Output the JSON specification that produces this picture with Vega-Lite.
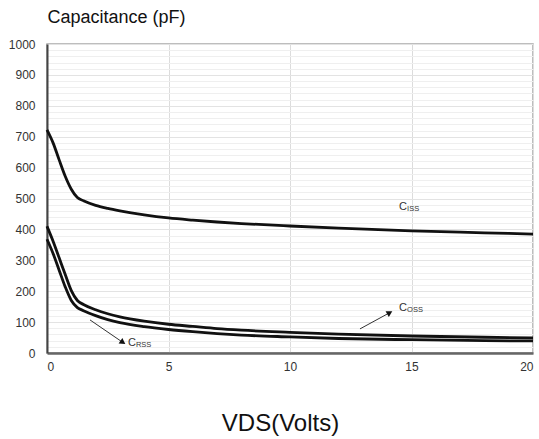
{
  "$schema": "https://vega.github.io/schema/vega-lite/v6.json",
  "width": 486,
  "height": 309,
  "autosize": "none",
  "padding": {"left": 47, "top": 44, "right": 6, "bottom": 86},
  "background": "white",
  "config": {
    "font": "Liberation Sans",
    "view": {"stroke": "#a8a8a8", "strokeWidth": 1.5}
  },
  "datasets": {
    "curves": [
      {"series": "Ciss", "vds": 0, "c": 722}, {"series": "Ciss", "vds": 0.25, "c": 680}, {"series": "Ciss", "vds": 0.5, "c": 625}, {"series": "Ciss", "vds": 0.75, "c": 572}, {"series": "Ciss", "vds": 1.0, "c": 530}, {"series": "Ciss", "vds": 1.25, "c": 503}, {"series": "Ciss", "vds": 1.5, "c": 493}, {"series": "Ciss", "vds": 2, "c": 478}, {"series": "Ciss", "vds": 2.5, "c": 468}, {"series": "Ciss", "vds": 3, "c": 460}, {"series": "Ciss", "vds": 4, "c": 447}, {"series": "Ciss", "vds": 5, "c": 437}, {"series": "Ciss", "vds": 6, "c": 430}, {"series": "Ciss", "vds": 7, "c": 424}, {"series": "Ciss", "vds": 8, "c": 419}, {"series": "Ciss", "vds": 10, "c": 411}, {"series": "Ciss", "vds": 12, "c": 404}, {"series": "Ciss", "vds": 15, "c": 395}, {"series": "Ciss", "vds": 18, "c": 389}, {"series": "Ciss", "vds": 20, "c": 385},
      {"series": "Coss", "vds": 0, "c": 410}, {"series": "Coss", "vds": 0.25, "c": 362}, {"series": "Coss", "vds": 0.5, "c": 308}, {"series": "Coss", "vds": 0.75, "c": 254}, {"series": "Coss", "vds": 1.0, "c": 202}, {"series": "Coss", "vds": 1.25, "c": 170}, {"series": "Coss", "vds": 1.5, "c": 157}, {"series": "Coss", "vds": 2, "c": 140}, {"series": "Coss", "vds": 2.5, "c": 127}, {"series": "Coss", "vds": 3, "c": 117}, {"series": "Coss", "vds": 4, "c": 103}, {"series": "Coss", "vds": 5, "c": 93}, {"series": "Coss", "vds": 6, "c": 86}, {"series": "Coss", "vds": 7, "c": 79}, {"series": "Coss", "vds": 8, "c": 74}, {"series": "Coss", "vds": 10, "c": 67}, {"series": "Coss", "vds": 12, "c": 61}, {"series": "Coss", "vds": 15, "c": 55}, {"series": "Coss", "vds": 18, "c": 51}, {"series": "Coss", "vds": 20, "c": 49},
      {"series": "Crss", "vds": 0, "c": 368}, {"series": "Crss", "vds": 0.25, "c": 322}, {"series": "Crss", "vds": 0.5, "c": 268}, {"series": "Crss", "vds": 0.75, "c": 214}, {"series": "Crss", "vds": 1.0, "c": 170}, {"series": "Crss", "vds": 1.25, "c": 147}, {"series": "Crss", "vds": 1.5, "c": 137}, {"series": "Crss", "vds": 2, "c": 121}, {"series": "Crss", "vds": 2.5, "c": 108}, {"series": "Crss", "vds": 3, "c": 98}, {"series": "Crss", "vds": 4, "c": 85}, {"series": "Crss", "vds": 5, "c": 76}, {"series": "Crss", "vds": 6, "c": 69}, {"series": "Crss", "vds": 7, "c": 63}, {"series": "Crss", "vds": 8, "c": 58}, {"series": "Crss", "vds": 10, "c": 52}, {"series": "Crss", "vds": 12, "c": 47}, {"series": "Crss", "vds": 15, "c": 43}, {"series": "Crss", "vds": 18, "c": 40}, {"series": "Crss", "vds": 20, "c": 39}
    ],
    "labels": [
      {"name": "Ciss", "main": "C", "sub": "ISS", "vds": 14.49, "c": 472},
      {"name": "Coss", "main": "C", "sub": "OSS", "vds": 14.49, "c": 146},
      {"name": "Crss", "main": "C", "sub": "RSS", "vds": 3.33, "c": 32}
    ],
    "arrows": [
      {"name": "Coss", "vds": 12.88, "c": 78, "vds2": 14.07, "c2": 129},
      {"name": "Crss", "vds": 1.77, "c": 107, "vds2": 3.09, "c2": 36}
    ]
  },
  "resolve": {"axis": {"y": "independent"}},
  "layer": [
    {
      "data": {"name": "curves"},
      "mark": {"type": "line", "interpolate": "monotone", "strokeWidth": 2.8, "color": "#111"},
      "encoding": {
        "x": {
          "field": "vds", "type": "quantitative",
          "scale": {"domain": [0, 20], "nice": false},
          "axis": {
            "values": [0, 5, 10, 15, 20],
            "title": "VDS(Volts)",
            "titleFontSize": 24, "titleFontWeight": "normal", "titleColor": "#111",
            "titleX": 233, "titleY": 77, "titleAlign": "center", "titleBaseline": "alphabetic",
            "labelFontSize": 12, "labelColor": "#333", "labelPadding": 8,
            "ticks": false, "tickSize": 0,
            "domainColor": "#666", "domainWidth": 2.5,
            "grid": true, "gridColor": "#dcdcdc", "gridWidth": 1
          }
        },
        "y": {
          "field": "c", "type": "quantitative",
          "scale": {"domain": [0, 1000], "nice": false},
          "axis": {
            "orient": "right",
            "values": [0, 20, 40, 60, 80, 120, 140, 160, 180, 220, 240, 260, 280, 320, 340, 360, 380, 420, 440, 460, 480, 520, 540, 560, 580, 620, 640, 660, 680, 720, 740, 760, 780, 820, 840, 860, 880, 920, 940, 960, 980],
            "labels": false, "ticks": false, "domain": false, "title": null,
            "grid": true, "gridColor": "#efefef", "gridWidth": 1
          }
        },
        "detail": {"field": "series"}
      }
    },
    {
      "data": {"name": "labels"},
      "mark": {"type": "text", "align": "left", "baseline": "middle", "fontSize": 11, "color": "#333"},
      "encoding": {
        "x": {"field": "vds", "type": "quantitative"},
        "y": {
          "field": "c", "type": "quantitative",
          "axis": {
            "orient": "left",
            "values": [0, 100, 200, 300, 400, 500, 600, 700, 800, 900, 1000],
            "format": "d",
            "title": "Capacitance (pF)",
            "titleAngle": 0, "titleX": 0, "titleY": -22, "titleAlign": "left", "titleBaseline": "alphabetic",
            "titleFontSize": 18, "titleFontWeight": "normal", "titleColor": "#111",
            "labelFontSize": 12, "labelColor": "#333", "labelPadding": 12,
            "ticks": false, "tickSize": 0,
            "domainColor": "#444", "domainWidth": 2,
            "grid": true, "gridColor": "#e3e3e3", "gridWidth": 1
          }
        },
        "text": {"field": "main"}
      }
    },
    {
      "data": {"name": "labels"},
      "mark": {"type": "text", "align": "left", "baseline": "middle", "fontSize": 7.5, "color": "#333", "dx": 8, "dy": 2},
      "encoding": {
        "x": {"field": "vds", "type": "quantitative"},
        "y": {"field": "c", "type": "quantitative", "axis": null},
        "text": {"field": "sub"}
      }
    },
    {
      "data": {"name": "arrows"},
      "mark": {"type": "rule", "color": "#333", "strokeWidth": 1},
      "encoding": {
        "x": {"field": "vds", "type": "quantitative"},
        "y": {"field": "c", "type": "quantitative", "axis": null},
        "x2": {"field": "vds2"},
        "y2": {"field": "c2"}
      }
    },
    {
      "data": {"name": "arrows"},
      "transform": [{"filter": "datum.name === 'Crss'"}],
      "mark": {"type": "point", "shape": "triangle", "filled": true, "color": "#111", "opacity": 1, "size": 45, "angle": 124},
      "encoding": {
        "x": {"field": "vds2", "type": "quantitative"},
        "y": {"field": "c2", "type": "quantitative", "axis": null}
      }
    },
    {
      "data": {"name": "arrows"},
      "transform": [{"filter": "datum.name === 'Coss'"}],
      "mark": {"type": "point", "shape": "triangle", "filled": true, "color": "#111", "opacity": 1, "size": 45, "angle": 61},
      "encoding": {
        "x": {"field": "vds2", "type": "quantitative"},
        "y": {"field": "c2", "type": "quantitative", "axis": null}
      }
    }
  ]
}
